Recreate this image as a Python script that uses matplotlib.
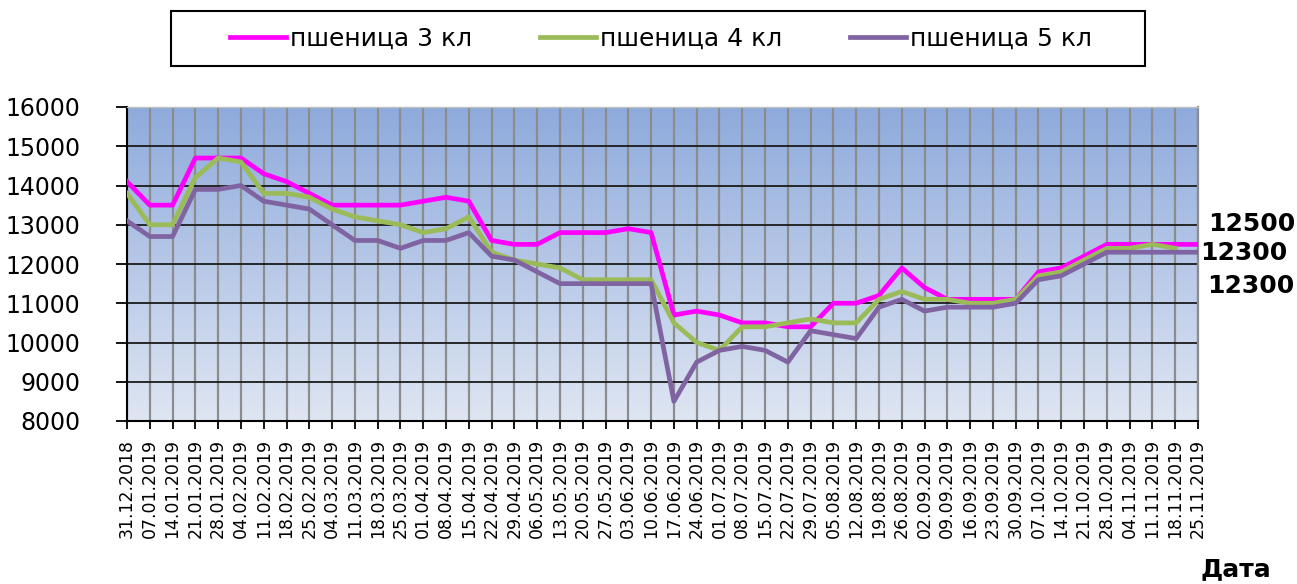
import numpy as np
import matplotlib
matplotlib.use("Agg")
import matplotlib.pyplot as plt
from matplotlib.patches import Rectangle
from matplotlib.lines import Line2D

dates = ["31.12.2018", "07.01.2019", "14.01.2019", "21.01.2019", "28.01.2019", "04.02.2019",
         "11.02.2019", "18.02.2019", "25.02.2019", "04.03.2019", "11.03.2019", "18.03.2019",
         "25.03.2019", "01.04.2019", "08.04.2019", "15.04.2019", "22.04.2019", "29.04.2019",
         "06.05.2019", "13.05.2019", "20.05.2019", "27.05.2019", "03.06.2019", "10.06.2019",
         "17.06.2019", "24.06.2019", "01.07.2019", "08.07.2019", "15.07.2019", "22.07.2019",
         "29.07.2019", "05.08.2019", "12.08.2019", "19.08.2019", "26.08.2019", "02.09.2019",
         "09.09.2019", "16.09.2019", "23.09.2019", "30.09.2019", "07.10.2019", "14.10.2019",
         "21.10.2019", "28.10.2019", "04.11.2019", "11.11.2019", "18.11.2019", "25.11.2019"]

wheat3 = [14100, 13500, 13500, 14700, 14700, 14700, 14300, 14100, 13800, 13500, 13500, 13500,
          13500, 13600, 13700, 13600, 12600, 12500, 12500, 12800, 12800, 12800, 12900, 12800,
          10700, 10800, 10700, 10500, 10500, 10400, 10400, 11000, 11000, 11200, 11900, 11400,
          11100, 11100, 11100, 11100, 11800, 11900, 12200, 12500, 12500, 12500, 12500, 12500]
wheat4 = [13800, 13000, 13000, 14200, 14700, 14600, 13800, 13800, 13700, 13400, 13200, 13100,
          13000, 12800, 12900, 13200, 12300, 12100, 12000, 11900, 11600, 11600, 11600, 11600,
          10500, 10000, 9800, 10400, 10400, 10500, 10600, 10500, 10500, 11100, 11300, 11100,
          11100, 11000, 11000, 11100, 11700, 11800, 12100, 12400, 12400, 12500, 12400, np.nan]
wheat5 = [13100, 12700, 12700, 13900, 13900, 14000, 13600, 13500, 13400, 13000, 12600, 12600,
          12400, 12600, 12600, 12800, 12200, 12100, 11800, 11500, 11500, 11500, 11500, 11500,
          8500, 9500, 9800, 9900, 9800, 9500, 10300, 10200, 10100, 10900, 11100, 10800,
          10900, 10900, 10900, 11000, 11600, 11700, 12000, 12300, 12300, 12300, 12300, 12300]

series_names = ["пшеница 3 кл", "пшеница 4 кл", "пшеница 5 кл"]
series_colors = ["#FF00FF", "#9BBB59", "#8064A2"]
end_labels = ["12500", "12300", "12300"]
y_ticks = [8000, 9000, 10000, 11000, 12000, 13000, 14000, 15000, 16000]
x_title = "Дата"

W, H = 1297, 584
fig = plt.figure(figsize=(W / 100, H / 100), dpi=100)
plt.rcParams['font.family'] = ['DejaVu Sans']

L, R, T, B = 127, 1198, 107, 421
ax = fig.add_axes([L / W, 1 - B / H, (R - L) / W, (B - T) / H])

x = np.arange(len(dates))
ax.set_xlim(0, len(dates) - 1)
ax.set_ylim(8000, 16000)

# gradient background
top = np.array([142, 170, 220]) / 255.0
bot = np.array([223, 230, 243]) / 255.0
t = np.linspace(0, 1, 256)[:, None]
grad = (top[None, :] * (1 - t) + bot[None, :] * t)[:, None, :]
ax.imshow(grad, extent=(0, len(dates) - 1, 8000, 16000), aspect='auto',
          origin='upper', zorder=0, interpolation='bilinear')

# gridlines
for xi in x:
    ax.axvline(xi, color='#8c8c8c', lw=1.6, zorder=1)
for yv in y_ticks:
    ax.axhline(yv, color='#1a1a1a', lw=1.3, zorder=1.2)

data = [wheat3, wheat4, wheat5]
handles = []
for vals, c, name in zip(data, series_colors, series_names):
    ax.plot(x, vals, color=c, lw=3.4, zorder=3, solid_joinstyle='round')
    handles.append(Line2D([0], [0], color=c, lw=3.4))

ax.set_yticks(y_ticks)
ax.set_yticklabels([str(v) for v in y_ticks], fontsize=17)
ax.set_xticks(x)
ax.set_xticklabels(dates, rotation=90, fontsize=12.5)
ax.tick_params(axis='y', direction='out', length=8, width=1.3, pad=25.5, color='black')
ax.tick_params(axis='x', direction='out', length=6, width=1.3, pad=7, color='black')

for s in ['left', 'bottom']:
    ax.spines[s].set_color('black')
    ax.spines[s].set_linewidth(1.5)
ax.spines['right'].set_color('#8c8c8c')
ax.spines['right'].set_linewidth(1.6)
ax.spines['top'].set_color('#bfbfbf')
ax.spines['top'].set_linewidth(1.0)

# end labels
label_pos = [(1208, 224), (1200, 253), (1207, 286)]
for txt, (px, py) in zip(end_labels, label_pos):
    fig.text(px / W, 1 - py / H, txt, fontsize=18, fontweight='bold',
             ha='left', va='center')

fig.text(1200 / W, 1 - 569 / H, x_title, fontsize=18, fontweight='bold',
         ha='left', va='center')

# legend box
fig.patches.append(Rectangle((171 / W, 1 - 66 / H), (1145 - 171) / W, (66 - 11) / H,
                             transform=fig.transFigure, facecolor='white',
                             edgecolor='black', lw=1.5, zorder=0))
leg = fig.legend(handles, series_names, loc='center', bbox_to_anchor=(661 / W, 1 - 38.5 / H),
                 ncol=3, frameon=False, fontsize=18, handlelength=2.24,
                 handletextpad=0.16, columnspacing=2.7)

fig.savefig("out.png", dpi=100)
